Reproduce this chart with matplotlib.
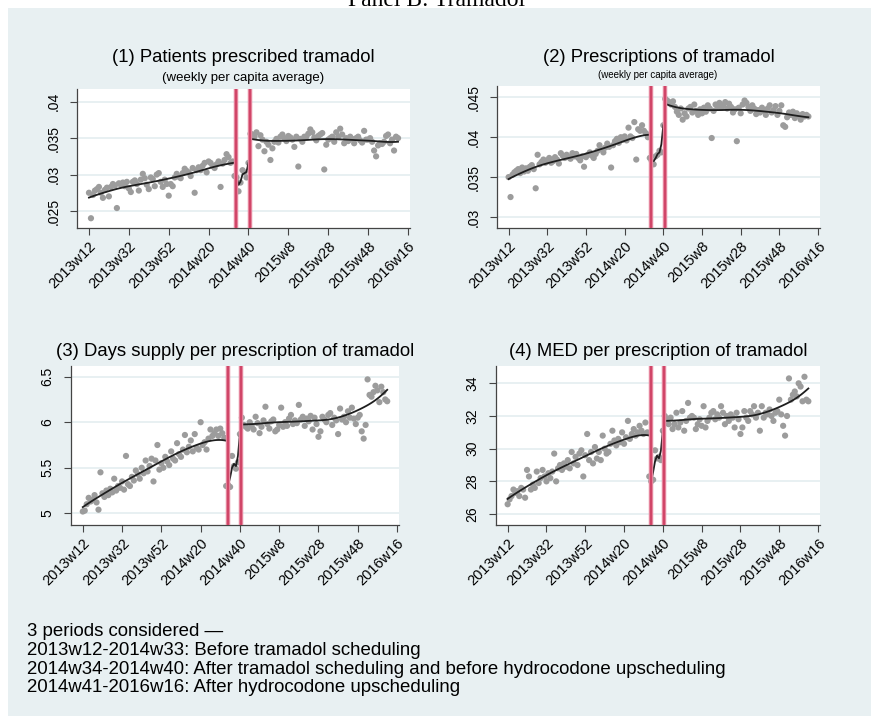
"""Panel B: Tramadol -- weekly outcomes across the three scheduling periods."""

import matplotlib

matplotlib.use("Agg")
import matplotlib.pyplot as plt
import numpy as np
from matplotlib.patches import Rectangle

plt.rcParams["font.family"] = ["Liberation Sans", "DejaVu Sans"]

W, H = 871, 716
BG = "#e8f0f2"
DOT = "#9c9c9c"
FIT = "#1e1e1e"

START_YEAR, START_WEEK = 2013, 12
TICK_WEEKS = [0, 20, 40, 60, 80, 100, 120, 140, 160]
MID_START, POST_START = 74, 81          # 2014w34, 2014w41
EVENT_LINES = [73.8, 80.8]

# weekly series, index 0 = 2013w12 (pre: 0-73, mid: 74-80, post: 81-155)
patients = [
    0.0275, 0.0240, 0.0272, 0.0278, 0.0280, 0.0283, 0.0275, 0.0268, 0.0279, 0.0282,
    0.0270, 0.0283, 0.0287, 0.0285, 0.0254, 0.0288, 0.0286, 0.0289, 0.0284, 0.0290,
    0.0281, 0.0276, 0.0290, 0.0292, 0.0287, 0.0278, 0.0293, 0.0301, 0.0295, 0.0286,
    0.0280, 0.0296, 0.0294, 0.0284, 0.0300, 0.0302, 0.0290, 0.0283, 0.0293, 0.0287,
    0.0271, 0.0287, 0.0284, 0.0296, 0.0301, 0.0297, 0.0295, 0.0302, 0.0308, 0.0305,
    0.0303, 0.0298, 0.0309, 0.0275, 0.0306, 0.0310, 0.0306, 0.0312, 0.0316, 0.0303,
    0.0318, 0.0316, 0.0312, 0.0309, 0.0314, 0.0318, 0.0283, 0.0315, 0.0320, 0.0328,
    0.0324, 0.0316, 0.0318, 0.0298,
    0.0296, 0.0277, 0.0289, 0.0306, 0.0303, 0.0296, 0.0316,
    0.0356, 0.0355, 0.0352, 0.0358, 0.0339, 0.0354, 0.0348, 0.0332, 0.0345, 0.0341,
    0.0320, 0.0336, 0.0345, 0.0349, 0.0344, 0.0352, 0.0355, 0.0350, 0.0346, 0.0353,
    0.0351, 0.0348, 0.0338, 0.0352, 0.0311, 0.0349, 0.0345, 0.0352, 0.0352, 0.0356,
    0.0362, 0.0358, 0.0351, 0.0347, 0.0353, 0.0355, 0.0357, 0.0307, 0.0341, 0.0348,
    0.0350, 0.0352, 0.0345, 0.0358, 0.0352, 0.0363, 0.0355, 0.0343, 0.0350, 0.0346,
    0.0352, 0.0349, 0.0343, 0.0350, 0.0352, 0.0347, 0.0344, 0.0360, 0.0348, 0.0348,
    0.0350, 0.0345, 0.0333, 0.0325, 0.0340, 0.0343, 0.0342, 0.0345, 0.0353, 0.0355,
    0.0343, 0.0348, 0.0333, 0.0352, 0.0350,
]
prescriptions = [
    0.0350, 0.0325, 0.0353, 0.0356, 0.0358, 0.0360, 0.0355, 0.0362, 0.0357, 0.0361,
    0.0358, 0.0363, 0.0365, 0.0360, 0.0336, 0.0378, 0.0366, 0.0369, 0.0372, 0.0368,
    0.0371, 0.0374, 0.0368, 0.0370, 0.0375, 0.0372, 0.0367, 0.0380, 0.0377, 0.0374,
    0.0378, 0.0375, 0.0373, 0.0380, 0.0376, 0.0379, 0.0374, 0.0371, 0.0376, 0.0363,
    0.0375, 0.0378, 0.0381, 0.0377, 0.0374, 0.0379, 0.0383, 0.0390, 0.0385, 0.0381,
    0.0387, 0.0392, 0.0388, 0.0362, 0.0390, 0.0395, 0.0398, 0.0393, 0.0400, 0.0397,
    0.0401, 0.0396, 0.0412, 0.0401, 0.0399, 0.0419, 0.0372, 0.0410, 0.0408, 0.0415,
    0.0408, 0.0405, 0.0400, 0.0374,
    0.0370, 0.0366, 0.0376, 0.0378, 0.0383, 0.0381, 0.0415,
    0.0448, 0.0446, 0.0444, 0.0441, 0.0445, 0.0438, 0.0432, 0.0428, 0.0436, 0.0422,
    0.0430, 0.0426, 0.0436, 0.0438, 0.0431, 0.0441, 0.0433, 0.0428, 0.0435, 0.0430,
    0.0437, 0.0432, 0.0440, 0.0436, 0.0399, 0.0433, 0.0441, 0.0438, 0.0443, 0.0437,
    0.0440, 0.0444, 0.0436, 0.0442, 0.0438, 0.0431, 0.0435, 0.0395, 0.0437, 0.0430,
    0.0441, 0.0446, 0.0443, 0.0438, 0.0433, 0.0440, 0.0436, 0.0429, 0.0434, 0.0431,
    0.0437, 0.0433, 0.0428, 0.0436, 0.0440, 0.0431, 0.0434, 0.0439, 0.0428, 0.0433,
    0.0440, 0.0415, 0.0413, 0.0425, 0.0431, 0.0428, 0.0432, 0.0424, 0.0430, 0.0427,
    0.0422, 0.0429, 0.0426, 0.0428, 0.0426,
]
days_supply = [
    5.02, 5.03, 5.10, 5.17, 5.13, 5.15, 5.20, 5.12, 5.04, 5.45,
    5.22, 5.18, 5.25, 5.20, 5.27, 5.23, 5.38, 5.25, 5.30, 5.28,
    5.35, 5.26, 5.63, 5.32, 5.30, 5.40, 5.36, 5.47, 5.43, 5.38,
    5.50, 5.44, 5.58, 5.46, 5.52, 5.60, 5.35, 5.58, 5.75, 5.48,
    5.55, 5.50, 5.62, 5.57, 5.53, 5.68, 5.60, 5.58, 5.77, 5.65,
    5.62, 5.70, 5.86, 5.67, 5.73, 5.80, 5.68, 5.87, 5.72, 5.70,
    6.00, 5.75, 5.78, 5.70, 5.82, 5.92, 5.85, 5.88, 5.92, 5.85,
    5.93, 5.88, 5.83, 5.30,
    5.31, 5.29, 5.63, 5.52, 5.49, 5.56, 5.87,
    6.05, 5.97, 5.95, 5.93, 6.00, 5.96, 5.92, 6.06, 5.99, 5.88,
    5.95, 6.02, 6.17, 5.98, 5.93, 6.01, 6.03, 5.90, 5.92, 5.97,
    6.16, 5.95, 6.00, 5.96, 6.04, 6.08, 5.98, 6.02, 5.99, 6.19,
    6.03, 6.06, 5.96, 6.04, 6.01, 6.07, 5.92, 6.05, 5.98, 5.84,
    5.90, 6.06, 6.03, 6.00, 6.08, 6.10, 5.97, 6.05, 6.02, 5.87,
    6.15, 6.03, 6.06, 6.00, 6.12, 6.05, 6.16, 6.04, 5.98,
    6.05, 6.08, 5.90, 5.82, 5.97, 6.47, 6.30, 6.28, 6.33, 6.40,
    6.35, 6.22, 6.39, 6.33, 6.25, 6.23,
]
med = [
    26.6, 26.9, 27.1, 27.5, 27.3, 27.4, 27.1, 27.6, 27.5, 27.0,
    28.7, 28.3, 27.5, 27.8, 27.6, 28.6, 27.9, 28.2, 28.7, 28.3,
    28.0, 28.5, 28.2, 28.6, 29.7, 28.0, 28.8, 29.0, 28.7, 29.1,
    28.9, 29.3, 28.8, 29.8, 29.1, 29.5, 29.0, 29.7, 29.9, 28.3,
    29.6, 30.9, 29.3, 29.8, 29.1, 30.1, 29.4, 29.8, 29.3, 30.8,
    30.0, 29.7, 29.8, 30.3, 31.1, 30.5, 30.2, 30.6, 30.4, 31.0,
    30.3, 30.7, 31.7, 30.6, 30.9, 31.2, 30.8, 31.0, 31.4, 31.1,
    30.9, 31.6, 31.0, 28.3,
    28.0, 28.1, 29.9, 29.4, 29.5, 29.3, 31.1,
    32.0, 31.8, 31.5, 31.9, 31.2, 31.5, 32.2, 31.3, 31.6, 32.3,
    31.1, 31.7, 32.8, 31.9, 32.0, 31.9, 31.2, 31.5, 31.8, 31.4,
    32.6, 31.3, 31.7, 31.9, 32.2, 32.3, 31.8, 32.1, 31.9, 32.6,
    32.2, 31.5, 32.0, 31.7, 32.1, 31.9, 31.3, 32.2, 31.8, 30.9,
    31.3, 32.3, 31.9, 31.7, 32.3, 32.1, 32.6, 31.9, 32.2, 31.1,
    32.6, 31.9, 32.2, 32.1, 32.4, 32.0, 31.7, 32.2, 32.3, 33.0,
    32.1, 31.4, 30.8, 32.0, 34.3, 33.0, 33.3, 33.5, 33.2, 34.0,
    33.8, 32.9, 34.4, 33.0, 32.9,
]

titles = [
    "(1) Patients prescribed tramadol",
    "(2) Prescriptions of tramadol",
    "(3) Days supply per prescription of tramadol",
    "(4) MED per prescription of tramadol",
]
yticks = [
    [0.025, 0.03, 0.035, 0.04],
    [0.03, 0.035, 0.04, 0.045],
    [5, 5.5, 6, 6.5],
    [26, 28, 30, 32, 34],
]
yticklabels = [
    [".025", ".03", ".035", ".04"],
    [".03", ".035", ".04", ".045"],
    ["5", "5.5", "6", "6.5"],
    ["26", "28", "30", "32", "34"],
]
ylims = [(0.02266, 0.04175), (0.02862, 0.04642), (4.872, 6.617), (25.33, 35.06)]
footnote = [
    "3 periods considered \u2014",
    "2013w12-2014w33: Before tramadol scheduling",
    "2014w34-2014w40: After tramadol scheduling and before hydrocodone upscheduling",
    "2014w41-2016w16: After hydrocodone upscheduling",
]

# plot areas in pixels: left, top, right, bottom
BOXES = [(77, 89, 410, 228), (497, 86, 820, 228), (71, 366, 399, 525), (496, 366, 820, 525)]


def week_label(i: int) -> str:
    year, week = START_YEAR, START_WEEK + i
    while week > 52:
        week -= 52
        year += 1
    return f"{year}w{week}"


def lowess(x: np.ndarray, y: np.ndarray, bw: float = 0.8) -> np.ndarray:
    """Running-line lowess with tricube weights (Stata's default)."""
    n = len(x)
    k = int(np.floor((n * bw - 0.5) / 2))
    out = np.empty(n)
    for i in range(n):
        lo, hi = max(0, i - k), min(n - 1, i + k)
        xs, ys = x[lo:hi + 1], y[lo:hi + 1]
        d = 1.0001 * max(x[hi] - x[i], x[i] - x[lo])
        w = (1 - (np.abs(xs - x[i]) / d) ** 3) ** 3
        xm = np.sum(w * xs) / w.sum()
        ym = np.sum(w * ys) / w.sum()
        sxx = np.sum(w * (xs - xm) ** 2)
        b = np.sum(w * (xs - xm) * (ys - ym)) / sxx if sxx > 0 else 0.0
        out[i] = ym + b * (x[i] - xm)
    return out


def px_rect(left, top, right, bottom):
    return [left / W, 1 - bottom / H, (right - left) / W, (bottom - top) / H]


fig = plt.figure(figsize=(W / 100, H / 100), dpi=100)
fig.patches.append(Rectangle((8 / W, 0), 1, (H - 8) / H, transform=fig.transFigure,
                             facecolor=BG, edgecolor="none", zorder=-10))
# the page title sits mostly above the crop, as in the source scan
fig.text(437 / W, 1 - 6 / H, "Panel B: Tramadol", family="Liberation Serif",
         fontsize=17, ha="center", va="baseline")

series = [patients, prescriptions, days_supply, med]
for k, vals in enumerate(series):
    ax = fig.add_axes(px_rect(*BOXES[k]))
    ax.set_facecolor("white")
    y = np.array(vals)
    x = np.arange(len(y), dtype=float)
    ax.scatter(x, y, s=20, color=DOT, edgecolors="none", zorder=2)
    for a, b in [(0, MID_START), (MID_START, POST_START), (POST_START, len(y))]:
        ax.plot(x[a:b], lowess(x[a:b], y[a:b]), color=FIT, lw=1.3, zorder=3)
    for xv in EVENT_LINES:
        ax.axvline(xv, color="#e5849c", lw=3.2, zorder=4)
        ax.axvline(xv, color="#cc3a5e", lw=1.2, zorder=4)

    ax.set_xlim(-6, 161)
    ax.set_ylim(*ylims[k])
    ax.set_yticks(yticks[k])
    ax.set_yticklabels(yticklabels[k], rotation=90, va="center", fontsize=10)
    ax.set_xticks(TICK_WEEKS)
    ax.set_xticklabels([week_label(t) for t in TICK_WEEKS], rotation=45, ha="right",
                       rotation_mode="anchor", fontsize=10.5)
    ax.tick_params(axis="y", length=5, width=0.8, color="#444", pad=7)
    ax.tick_params(axis="x", length=5, width=0.8, color="#444", pad=3)
    ax.grid(axis="y", color=BG, lw=1.4)
    ax.set_axisbelow(True)
    for side in ("top", "right"):
        ax.spines[side].set_visible(False)
    for side in ("left", "bottom"):
        ax.spines[side].set_color("#444")
        ax.spines[side].set_linewidth(0.9)

    cx = (BOXES[k][0] + BOXES[k][2]) / 2 / W
    ty = 57 if k < 2 else 351
    fig.text(cx, 1 - ty / H, titles[k], fontsize=13.3, ha="center", va="center")

fig.text(243 / W, 1 - 78 / H, "(weekly per capita average)", fontsize=9.5,
         ha="center", va="center")
fig.text(658 / W, 1 - 75 / H, "(weekly per capita average)", fontsize=7,
         ha="center", va="center")

for i, line in enumerate(footnote):
    fig.text(27 / W, 1 - (632 + 18.5 * i) / H, line, fontsize=13.4, ha="left",
             va="center")

fig.savefig("out.png", dpi=100)
